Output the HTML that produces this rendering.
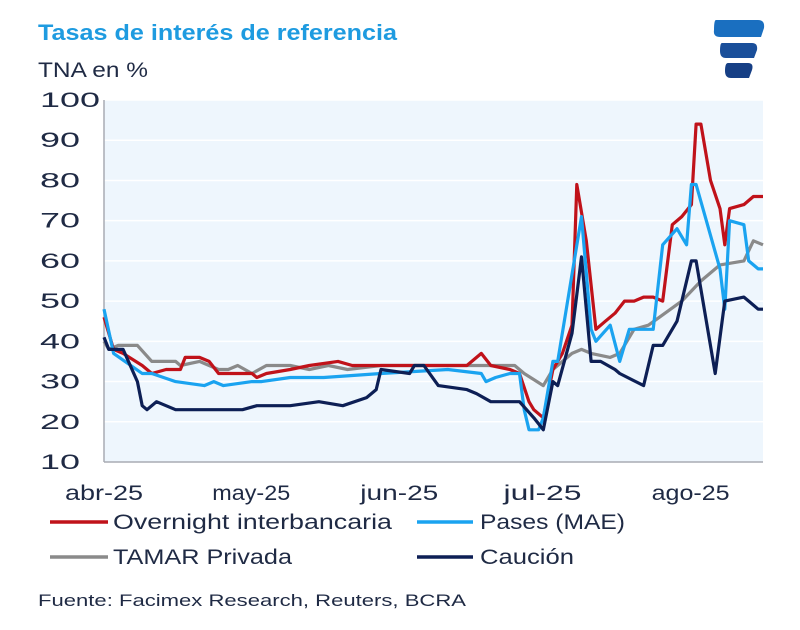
<!DOCTYPE html>
<html><head><meta charset="utf-8"><style>
body{margin:0;background:#fff;width:800px;height:625px;overflow:hidden;font-family:"Liberation Sans",sans-serif}
svg text{font-family:"Liberation Sans",sans-serif}
</style></head><body>
<svg id="chart" width="800" height="625">
<text x="38" y="40" font-size="22" font-weight="bold" fill="#1e9be0" textLength="359" lengthAdjust="spacingAndGlyphs">Tasas de interés de referencia</text>
<text x="38" y="77" font-size="21" fill="#1f2a44" textLength="110" lengthAdjust="spacingAndGlyphs">TNA en %</text>
<g>
<path d="M716 20 L758 20 Q765 20 764 28 L761 37 L720 37 Q713 37 714 30 Q714 20 716 20Z" fill="#1a6fc0"/>
<path d="M722 43 L752 43 Q758 43 757 50 L754 58 L726 58 Q720 58 720 51 Q720 43 722 43Z" fill="#1a4f9a"/>
<path d="M728 63 L748 63 Q754 63 752 70 L749 78 L731 78 Q725 78 725 71 Q725 63 728 63Z" fill="#163f85"/>
</g>
<rect x="104" y="100" width="659" height="362" fill="#eef6fd"/>
<g id="grid"></g>
<g id="yticks"></g>
<g id="xticks"></g>
<line x1="104" y1="100" x2="104" y2="462" stroke="#a8acb3" stroke-width="1.5"/>
<line x1="104" y1="462" x2="763" y2="462" stroke="#a8acb3" stroke-width="1.5"/>
<g id="series"></g>
<g>
<line x1="50" y1="522" x2="108" y2="522" stroke="#c0121a" stroke-width="3.5"/>
<text x="113" y="529" font-size="21" fill="#1f2a44" textLength="279" lengthAdjust="spacingAndGlyphs">Overnight interbancaria</text>
<line x1="417" y1="522" x2="473" y2="522" stroke="#1aa3f0" stroke-width="3.5"/>
<text x="480" y="529" font-size="21" fill="#1f2a44" textLength="145" lengthAdjust="spacingAndGlyphs">Pases (MAE)</text>
<line x1="50" y1="557" x2="108" y2="557" stroke="#8a8a8a" stroke-width="3.5"/>
<text x="113" y="564" font-size="21" fill="#1f2a44" textLength="179" lengthAdjust="spacingAndGlyphs">TAMAR Privada</text>
<line x1="417" y1="557" x2="473" y2="557" stroke="#0d1f55" stroke-width="3.5"/>
<text x="480" y="564" font-size="21" fill="#1f2a44" textLength="94" lengthAdjust="spacingAndGlyphs">Caución</text>
</g>
<text x="38" y="606" font-size="17" fill="#1f2a44" textLength="428" lengthAdjust="spacingAndGlyphs">Fuente: Facimex Research, Reuters, BCRA</text>
</svg>
<script>
const yTicks=[10,20,30,40,50,60,70,80,90,100];
const monthLabels=["abr-25","may-25","jun-25","jul-25","ago-25"];
const monthDays=[0,30,61,91,122];
const redDays=[0,2,4,8,10,13,16,17,20,22,24,27,31,32,34,39,43,49,52,56,62,68,76,79,81,85,87,89,90,92,94,96,98,99,101,103,105,107,109,111,113,115,117,119,121,123,124,125,127,129,130,131,134,136,138];
const redVals=[46,38,37,34,32,33,33,36,36,35,32,32,32,31,32,33,34,35,34,34,34,34,34,37,34,33,32,25,23,21,33,37,44,79,65,43,45,47,50,50,51,51,50,69,71,74,94,94,80,73,64,73,74,76,76];
const blueDays=[0,2,8,10,15,21,23,25,31,33,39,46,58,72,79,80,82,85,87,88,89,91,92,94,95,100,102,103,106,108,110,115,117,120,122,123,124,129,130,131,134,135,137,138];
const blueVals=[48,37,32,32,30,29,30,29,30,30,31,31,32,33,32,30,31,32,32,23,18,18,21,35,35,71,43,40,44,35,43,43,64,68,64,79,79,58,48,70,69,60,58,58];
const grayDays=[0,1,3,7,10,15,16,20,22,24,26,28,31,34,39,43,47,51,58,75,86,88,92,94,98,100,102,106,108,111,114,121,125,129,134,136,138];
const grayVals=[40,38,39,39,35,35,34,35,34,33,33,34,32,34,34,33,34,33,34,34,34,32,29,33,37,38,37,36,37,43,44,50,55,59,60,65,64];
const navyDays=[0,1,4,7,8,9,11,15,20,28,29,32,39,45,50,55,57,58,64,65,67,70,76,78,81,87,90,92,94,95,98,100,102,104,107,108,113,115,117,120,123,124,128,130,134,135,137,138];
const navyVals=[41,38,38,30,24,23,25,23,23,23,23,24,24,25,24,26,28,33,32,34,34,29,28,27,25,25,21,18,30,29,42,61,35,35,33,32,29,39,39,45,60,60,32,50,51,50,48,48];
const NS="http://www.w3.org/2000/svg";
const X0=104,X1=763,Y0=462,Y1=100,DMAX=138;
const xs=d=>X0+d*(X1-X0)/DMAX;
const ys=v=>Y0-(v-10)*(Y0-Y1)/90;
const grid=document.getElementById('grid'),yt=document.getElementById('yticks'),xt=document.getElementById('xticks'),sg=document.getElementById('series');
yTicks.forEach(v=>{
  if(v>10){const l=document.createElementNS(NS,'line');
  l.setAttribute('x1',X0);l.setAttribute('x2',X1);l.setAttribute('y1',ys(v));l.setAttribute('y2',ys(v));
  l.setAttribute('stroke','#ffffff');l.setAttribute('stroke-width','1.5');
  
  
  grid.appendChild(l);}
  const t=document.createElementNS(NS,'text');
  t.setAttribute('x',40);t.setAttribute('y',ys(v)+7);t.setAttribute('font-size','21');t.setAttribute('fill','#1f2a44');
  t.setAttribute('textLength',String(v).length*20);t.setAttribute('lengthAdjust','spacingAndGlyphs');
  t.textContent=v;
  
  
  yt.appendChild(t);
});
monthLabels.forEach((m,i)=>{
  const t=document.createElementNS(NS,'text');
  t.setAttribute('x',xs(monthDays[i])+(i===0?0:4));t.setAttribute('y',500);t.setAttribute('font-size','21');t.setAttribute('fill','#1f2a44');t.setAttribute('text-anchor','middle');
  t.setAttribute('textLength',m.length*13);t.setAttribute('lengthAdjust','spacingAndGlyphs');
  t.textContent=m;
  
  
  xt.appendChild(t);
});
function draw(days,vals,color,name){
  const p=document.createElementNS(NS,'polyline');
  p.setAttribute('points',days.map((d,i)=>xs(d).toFixed(1)+','+ys(vals[i]).toFixed(1)).join(' '));
  p.setAttribute('fill','none');p.setAttribute('stroke',color);p.setAttribute('stroke-width','3.2');p.setAttribute('stroke-linejoin','round');
  
  
  sg.appendChild(p);
}
draw(grayDays,grayVals,'#8a8a8a','tamar-line');
draw(redDays,redVals,'#c0121a','overnight-line');
draw(blueDays,blueVals,'#1aa3f0','pases-line');
draw(navyDays,navyVals,'#0d1f55','caucion-line');
</script>
</body></html>
